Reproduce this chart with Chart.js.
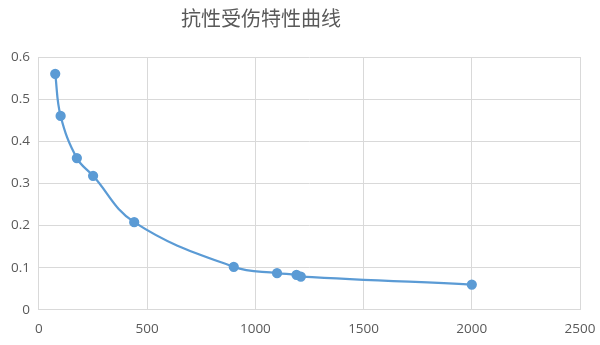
<!DOCTYPE html>
<html>
<head>
<meta charset="utf-8">
<script src="https://cdn.jsdelivr.net/npm/chart.js@4"></script>
<style>
  html, body { margin: 0; padding: 0; background: #fff; }
  #wrap { width: 600px; height: 345px; }
</style>
</head>
<body>
<div id="wrap"><canvas id="curveChart"></canvas></div>
<script>
// resistance vs damage taken
const resistance = [75, 100, 175, 250, 440, 900, 1100, 1190, 1210, 2000];
const damageRate = [0.56, 0.46, 0.36, 0.318, 0.208, 0.102, 0.087, 0.083, 0.079, 0.06];
const xTicks = [0, 500, 1000, 1500, 2000, 2500];
const yTicks = [0, 0.1, 0.2, 0.3, 0.4, 0.5, 0.6];
const chartTitle = '抗性受伤特性曲线';

const points = resistance.map((x, i) => ({ x: x, y: damageRate[i] }));

// title is drawn a bit left of centre, like in the source picture
const titlePlugin = {
  id: 'offTitle',
  afterDraw(chart) {
    const c = chart.ctx;
    c.save();
    c.font = '20px "Noto Sans CJK SC"';
    c.fillStyle = '#595959';
    c.textAlign = 'center';
    c.textBaseline = 'middle';
    c.fillText(chartTitle, 261, 18);
    c.restore();
  }
};

const ctx = document.getElementById('curveChart').getContext('2d');
new Chart(ctx, {
  type: 'scatter',
  data: {
    datasets: [{
      label: '抗性受伤',
      data: points,
      showLine: true,
      borderColor: '#5b9bd5',
      backgroundColor: '#5b9bd5',
      borderWidth: 2.25,
      pointRadius: 4,
      pointHoverRadius: 4,
      tension: 0.4
    }]
  },
  options: {
    responsive: true,
    maintainAspectRatio: false,
    animation: false,
    layout: { padding: { left: 2, right: 0, top: 57, bottom: -3 } },
    scales: {
      x: {
        type: 'linear',
        min: xTicks[0],
        max: xTicks[xTicks.length - 1],
        afterBuildTicks: axis => { axis.ticks = xTicks.map(v => ({ value: v })); },
        afterFit: axis => { axis.paddingRight = 20; },
        ticks: {
          color: '#595959',
          font: { family: 'Open Sans', size: 13.5 },
          padding: 11,
          callback: v => String(v)
        },
        grid: { color: '#d9d9d9', drawTicks: false },
        border: { color: '#d9d9d9' }
      },
      y: {
        min: yTicks[0],
        max: yTicks[yTicks.length - 1],
        afterBuildTicks: axis => { axis.ticks = yTicks.map(v => ({ value: v })); },
        ticks: {
          color: '#595959',
          font: { family: 'Open Sans', size: 13.5 },
          padding: 9,
          callback: v => String(v)
        },
        grid: { color: '#d9d9d9', drawTicks: false },
        border: { display: false }
      }
    },
    plugins: {
      legend: { display: false },
      tooltip: { enabled: false },
      title: { display: false }
    }
  },
  plugins: [titlePlugin]
});
</script>
</body>
</html>
